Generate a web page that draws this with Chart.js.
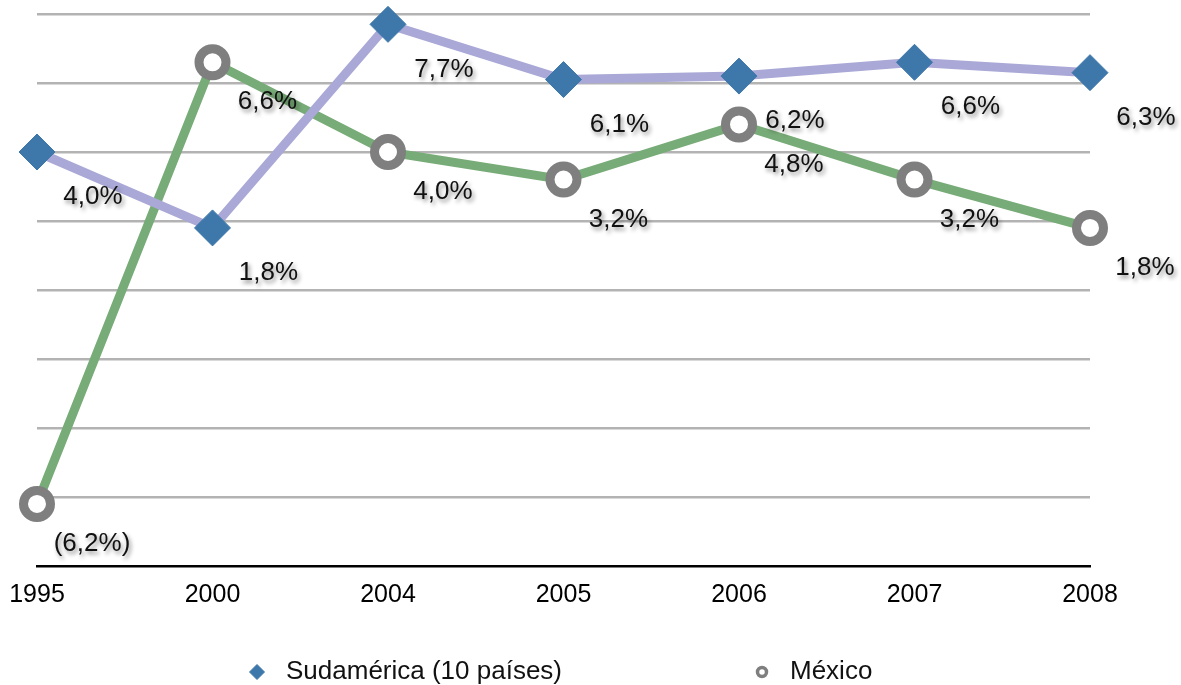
<!DOCTYPE html>
<html lang="es">
<head>
    <meta charset="UTF-8">
    <title>Sudamérica vs México</title>
    <style>
        body {
            margin: 0;
            background: #ffffff;
        }
        .wrap {
            width: 1181px;
            height: 685px;
        }
    </style>
</head>
<body>
    <div class="wrap">
        <canvas id="growthChart" width="1181" height="685"></canvas>
    </div>

    <script src="https://cdn.jsdelivr.net/npm/chart.js"></script>
    <script>
        // Data
        const years = ['1995', '2000', '2004', '2005', '2006', '2007', '2008'];
        const sudamerica = [4.0, 1.8, 7.7, 6.1, 6.2, 6.6, 6.3];
        const mexico = [-6.2, 6.6, 4.0, 3.2, 4.8, 3.2, 1.8];
        const seriesNames = ['Sudamérica (10 países)', 'México'];

        const FONT = '"Liberation Sans", Arial, Helvetica, sans-serif';

        // 4.0 -> "4,0%", negatives in brackets
        function fmt(v) {
            const s = Math.abs(v).toFixed(1).replace('.', ',') + '%';
            return v < 0 ? '(' + s + ')' : s;
        }

        // Value labels next to each point, with a soft drop shadow
        const valueLabels = {
            id: 'valueLabels',
            afterDatasetsDraw(chart) {
                const ctx = chart.ctx;
                const offsets = [[56, 45], [55, 40]];
                ctx.save();
                ctx.font = '26px ' + FONT;
                ctx.fillStyle = '#111111';
                ctx.textAlign = 'center';
                ctx.textBaseline = 'middle';
                ctx.shadowColor = 'rgba(0,0,0,0.45)';
                ctx.shadowBlur = 4;
                ctx.shadowOffsetX = 2;
                ctx.shadowOffsetY = 3;
                chart.data.datasets.forEach((ds, di) => {
                    const meta = chart.getDatasetMeta(di);
                    meta.data.forEach((pt, i) => {
                        ctx.fillText(fmt(ds.data[i]), pt.x + offsets[di][0], pt.y + offsets[di][1]);
                    });
                });
                ctx.restore();
            }
        };

        // Legend under the axis, spaced like the original
        const bottomLegend = {
            id: 'bottomLegend',
            afterDraw(chart) {
                const ctx = chart.ctx;
                const y = 672;
                ctx.save();
                ctx.fillStyle = '#3e77aa';
                ctx.strokeStyle = '#3e77aa';
                ctx.lineWidth = 1;
                Chart.helpers.drawPoint(ctx, {
                    pointStyle: 'rectRot', radius: 7.5, borderWidth: 1
                }, 257, y);
                ctx.restore();

                ctx.save();
                ctx.fillStyle = '#ffffff';
                ctx.strokeStyle = '#7f7f7f';
                ctx.lineWidth = 3.5;
                Chart.helpers.drawPoint(ctx, {
                    pointStyle: 'circle', radius: 4.5, borderWidth: 3.5
                }, 762, y);
                ctx.restore();

                ctx.save();
                ctx.font = '26px ' + FONT;
                ctx.fillStyle = '#111111';
                ctx.textAlign = 'left';
                ctx.textBaseline = 'middle';
                ctx.fillText(seriesNames[0], 286, y);
                ctx.fillText(seriesNames[1], 790, y);
                ctx.restore();
            }
        };

        const ctx = document.getElementById('growthChart').getContext('2d');
        const growthChart = new Chart(ctx, {
            type: 'line',
            data: {
                labels: years,
                datasets: [
                    {
                        label: seriesNames[0],
                        data: sudamerica,
                        borderColor: '#a9a8d6',
                        borderWidth: 9,
                        pointStyle: 'rectRot',
                        pointRadius: 18,
                        pointBackgroundColor: '#3e77aa',
                        pointBorderColor: '#3e77aa',
                        pointBorderWidth: 1,
                        tension: 0,
                        fill: false,
                        clip: false
                    },
                    {
                        label: seriesNames[1],
                        data: mexico,
                        borderColor: '#77ab77',
                        borderWidth: 9,
                        pointStyle: 'circle',
                        pointRadius: 13.5,
                        pointBackgroundColor: '#ffffff',
                        pointBorderColor: '#7f7f7f',
                        pointBorderWidth: 9,
                        tension: 0,
                        fill: false,
                        clip: false
                    }
                ]
            },
            options: {
                responsive: false,
                animation: false,
                events: [],
                layout: {
                    autoPadding: false,
                    padding: { top: 14, left: 37, right: 91, bottom: 79 }
                },
                plugins: {
                    legend: { display: false },
                    tooltip: { enabled: false }
                },
                scales: {
                    x: {
                        offset: false,
                        grid: { display: false, drawTicks: false },
                        border: { display: true, color: '#000000', width: 2.5 },
                        ticks: {
                            color: '#000000',
                            font: { family: FONT, size: 25 },
                            padding: 14,
                            maxRotation: 0
                        },
                        afterFit(scale) {
                            scale.paddingLeft = 0;
                            scale.paddingRight = 0;
                            scale.height = 40;
                        }
                    },
                    y: {
                        min: -8,
                        max: 8,
                        ticks: { stepSize: 2, display: false },
                        border: { display: false },
                        grid: {
                            drawTicks: false,
                            lineWidth: 2.5,
                            color: c => c.tick && c.tick.value === -8 ? 'rgba(0,0,0,0)' : '#b3b3b3'
                        },
                        afterFit(scale) {
                            scale.paddingTop = 0;
                            scale.paddingBottom = 0;
                            scale.width = 0;
                        }
                    }
                }
            },
            plugins: [valueLabels, bottomLegend]
        });
    </script>
</body>
</html>
